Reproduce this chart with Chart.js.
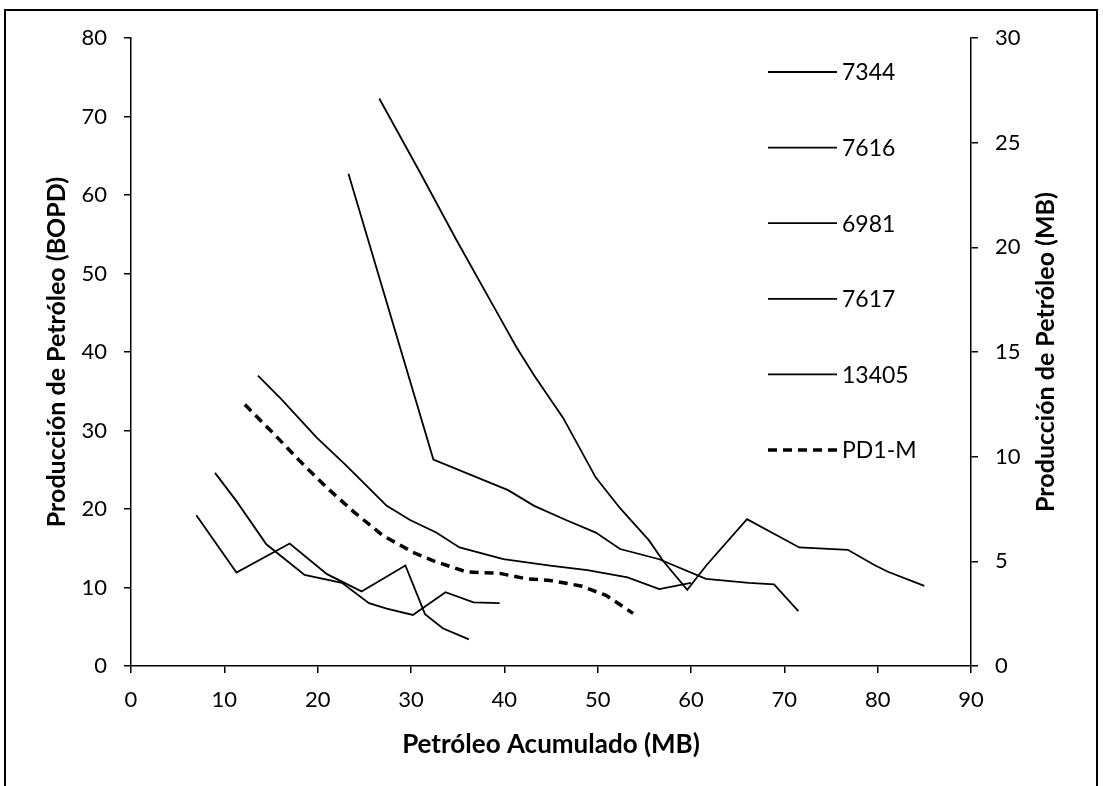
<!DOCTYPE html>
<html>
<head>
<meta charset="utf-8">
<script src="https://cdn.jsdelivr.net/npm/chart.js@4.4.1/dist/chart.umd.min.js"></script>
<style>
  body { margin: 0; background: #fff; }
  #wrap { width: 1103px; height: 786px; }
</style>
</head>
<body>
<div id="wrap"><canvas id="chart" width="1103" height="786"></canvas></div>
<script>
// values: x = Petróleo Acumulado (MB), y = BOPD
const labels = ["7344", "7616", "6981", "7617", "13405", "PD1-M"];

const x7344 = [26.6, 31.0, 34.9, 39.0, 41.3, 43.2, 46.3, 49.8, 52.4, 55.5, 57.0, 59.6, 61.7, 66.0, 71.6, 76.8, 79.6, 81.1, 85.0];
const y7344 = [72.3, 62.8, 54.2, 45.5, 40.6, 37.0, 31.6, 24.0, 20.1, 16.0, 13.4, 9.7, 12.9, 18.7, 15.1, 14.8, 12.9, 12.0, 10.2];

const x7616 = [23.3, 32.4, 40.4, 43.2, 46.6, 49.8, 52.4, 56.6, 61.6, 66.2, 68.9, 71.5];
const y7616 = [62.7, 26.3, 22.4, 20.4, 18.6, 17.0, 14.9, 13.6, 11.1, 10.6, 10.4, 7.0];

const x6981 = [13.6, 16.1, 19.9, 23.1, 27.4, 29.9, 32.7, 35.2, 39.9, 44.9, 48.9, 53.2, 56.6, 60.0];
const y6981 = [37.0, 34.0, 29.1, 25.5, 20.4, 18.6, 17.0, 15.1, 13.6, 12.8, 12.2, 11.3, 9.8, 10.6];

const x7617 = [7.0, 11.3, 17.0, 21.0, 24.7, 29.4, 31.5, 33.4, 36.2];
const y7617 = [19.2, 11.9, 15.6, 11.7, 9.5, 12.8, 6.6, 4.8, 3.4];

const x13405 = [9.0, 11.3, 14.5, 18.6, 22.6, 25.5, 27.4, 30.2, 33.7, 36.7, 39.5];
const y13405 = [24.6, 21.0, 15.5, 11.6, 10.6, 8.0, 7.3, 6.5, 9.4, 8.1, 8.0];

const xPD1 = [12.2, 15.2, 18.1, 21.0, 23.9, 27.0, 30.2, 32.4, 35.9, 39.5, 42.4, 44.9, 48.2, 50.9, 53.8];
const yPD1 = [33.3, 29.7, 26.1, 22.7, 19.6, 16.6, 14.5, 13.4, 12.0, 11.8, 11.1, 10.9, 10.2, 9.0, 6.7];

const xTicks = [0, 10, 20, 30, 40, 50, 60, 70, 80, 90];
const yTicks = [0, 10, 20, 30, 40, 50, 60, 70, 80];
const y2Ticks = [0, 5, 10, 15, 20, 25, 30];

const FONT = "Lato, 'Open Sans', sans-serif";

function pts(xs, ys) {
  return xs.map((x, i) => ({ x: x, y: ys[i] }));
}

function line(label, xs, ys, dashed) {
  return {
    label: label,
    data: pts(xs, ys),
    showLine: true,
    borderColor: '#000',
    borderWidth: dashed ? 3.5 : 1.8,
    borderDash: dashed ? [9, 6] : [],
    pointRadius: 0,
    tension: 0,
    yAxisID: 'y'
  };
}

// frame round the whole picture
const framePlugin = {
  id: 'frame',
  beforeDraw(chart) {
    const ctx = chart.ctx;
    ctx.save();
    ctx.fillStyle = '#fff';
    ctx.fillRect(0, 0, chart.width, chart.height);
    ctx.strokeStyle = '#000';
    ctx.lineWidth = 2;
    ctx.strokeRect(5, 10, 1092, 800);
    ctx.restore();
  }
};

// legend inside the plot, top right, plus the right axis title
const sideLegend = {
  id: 'sideLegend',
  afterDraw(chart) {
    const ctx = chart.ctx;
    ctx.save();
    const top = 72, step = 75.6;
    chart.data.datasets.forEach((ds, i) => {
      const y = top + i * step;
      ctx.strokeStyle = '#000';
      ctx.lineWidth = ds.borderWidth;
      ctx.setLineDash(ds.borderDash);
      ctx.beginPath();
      ctx.moveTo(768, y);
      ctx.lineTo(837, y);
      ctx.stroke();
      ctx.setLineDash([]);
      ctx.fillStyle = '#000';
      ctx.font = "23px " + FONT;
      ctx.textBaseline = 'middle';
      ctx.textAlign = 'left';
      ctx.fillText(ds.label, 842, y + 1);
    });
    ctx.translate(1046, 352);
    ctx.rotate(-Math.PI / 2);
    ctx.font = "bold 25px " + FONT;
    ctx.textAlign = 'center';
    ctx.textBaseline = 'middle';
    ctx.fillText("Producción de Petróleo (MB)", 0, 0);
    ctx.restore();
  }
};

const axisGrid = { display: true, drawOnChartArea: false, drawTicks: true, tickLength: 7, color: '#000', lineWidth: 1.5 };
const axisBorder = { display: true, color: '#000', width: 1.5 };

new Chart(document.getElementById('chart'), {
  type: 'scatter',
  data: {
    datasets: [
      line(labels[0], x7344, y7344, false),
      line(labels[1], x7616, y7616, false),
      line(labels[2], x6981, y6981, false),
      line(labels[3], x7617, y7617, false),
      line(labels[4], x13405, y13405, false),
      line(labels[5], xPD1, yPD1, true)
    ]
  },
  options: {
    responsive: false,
    animation: false,
    layout: { padding: { left: 0, right: 0, top: 38, bottom: 0 } },
    plugins: {
      legend: { display: false },
      tooltip: { enabled: false }
    },
    scales: {
      x: {
        type: 'linear',
        min: 0, max: 90,
        afterBuildTicks: s => { s.ticks = xTicks.map(v => ({ value: v })); },
        afterFit: s => { s.height = 120; },
        grid: axisGrid,
        border: axisBorder,
        ticks: { color: '#000', padding: 14, maxRotation: 0, font: { family: FONT, size: 22 } },
        title: {
          display: true, text: 'Petróleo Acumulado (MB)', color: '#000',
          padding: { top: 0, bottom: 26 },
          font: { family: FONT, size: 26, weight: 'bold' }
        }
      },
      y: {
        type: 'linear', position: 'left',
        min: 0, max: 80,
        afterBuildTicks: s => { s.ticks = yTicks.map(v => ({ value: v })); },
        afterFit: s => { s.width = 131; },
        grid: axisGrid,
        border: axisBorder,
        ticks: { color: '#000', padding: 17, font: { family: FONT, size: 22 } },
        title: {
          display: true, text: 'Producción de Petróleo (BOPD)', color: '#000',
          padding: { top: 42, bottom: 0 },
          font: { family: FONT, size: 25, weight: 'bold' }
        }
      },
      y2: {
        type: 'linear', position: 'right', display: true,
        min: 0, max: 30,
        afterBuildTicks: s => { s.ticks = y2Ticks.map(v => ({ value: v })); },
        afterFit: s => { s.width = 132; },
        grid: axisGrid,
        border: axisBorder,
        ticks: { color: '#000', padding: 17, font: { family: FONT, size: 22 } }
      }
    }
  },
  plugins: [framePlugin, sideLegend]
});
</script>
</body>
</html>
